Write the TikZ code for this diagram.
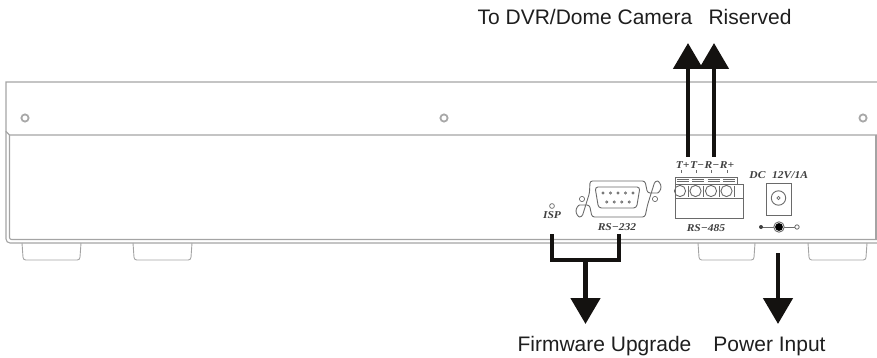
\documentclass[tikz,border=0pt]{standalone}
\usepackage{fontspec}
\setmainfont{Liberation Sans}
\newfontfamily\devfont[FakeStretch=1.1]{Liberation Serif}
\usetikzlibrary{arrows.meta}
\definecolor{edgegray}{HTML}{A4A4A4}
\definecolor{screwgray}{HTML}{A8A8A8}
\definecolor{devgray}{HTML}{6A6A6A}
\definecolor{devtext}{HTML}{404040}
\definecolor{arrowblack}{HTML}{141210}
\definecolor{labeltext}{HTML}{1E1E1E}
\tikzset{
  edgeline/.style={draw=edgegray, line width=1.1pt},
  screw/.style={draw=screwgray, line width=1.8pt},
  devline/.style={draw=devgray, line width=0.9pt},
  devlabel/.style={inner sep=0pt, text=devtext, font=\devfont\bfseries\itshape\fontsize{10.5}{12}\selectfont},
  mainlabel/.style={inner sep=0pt, anchor=base, text=labeltext, font=\fontsize{21}{25}\selectfont},
  bigarrow/.style={draw=arrowblack, line width=4.8pt, -{Triangle[width=29pt,length=26pt]}},
  bracketline/.style={draw=arrowblack, line width=4.8pt, line join=miter, line cap=butt},
}
\begin{document}
\begin{tikzpicture}[x=1pt,y=-1pt]
\useasboundingbox (0,0) rectangle (877,358);
% ---- housing ----
\draw[edgeline] (877,82) -- (6,82) -- (6,131.5) -- (9.5,135) -- (877,135);
\draw[edgeline, rounded corners=4] (6,131.5) -- (6,243) -- (877,243);
\draw[edgeline, rounded corners=2] (9.5,135) -- (9.5,239.5) -- (877,239.5);
\draw[edgeline] (876,135) -- (876,239.5);
% screws
\draw[screw] (25,118) circle (3.6);
\draw[screw] (444,118) circle (3.6);
\draw[screw] (863,118) circle (3.6);
% feet
\foreach \a/\b in {22/81, 133/192, 698/755, 808/867}{
  \draw[edgeline, line width=0.9pt, rounded corners=2.5] (\a,243) -- (\a+1.2,260) -- (\b-1.2,260) -- (\b,243);
}
% ---- ISP ----
\draw[devline, line width=0.7pt] (552,206) circle (2.4);
\node[devlabel] (isp) at (552,215) {ISP};
% ---- RS-232 (DB9) ----
\draw[devline, rounded corners=2.5] (590,181) -- (645,181) -- (647.5,193) -- (655,193)
   arc (90:-90:6) -- (647.5,205) -- (645,217) -- (592,217) -- (589.5,205) -- (582,205)
   arc (270:90:6) -- (589.5,193) -- cycle;
\draw[devline, rounded corners=3] (595,187) -- (640,187) -- (636.5,208) -- (598.5,208) -- cycle;
\draw[devline, line width=0.7pt] (582,199) circle (2.6);
\draw[devline, line width=0.7pt] (655,199) circle (2.6);
\foreach \i in {0,...,4}{ \draw[devline, line width=0.6pt] (603+7.5*\i,193) circle (1.1); }
\foreach \i in {0,...,3}{ \draw[devline, line width=0.6pt] (606.75+7.5*\i,202) circle (1.1); }
\node[devlabel] (rs232) at (617,227) {RS−232};
% ---- RS-485 terminal block ----
\node[devlabel] (trlab) at (705,165) {T+\kern0.5pt T−\kern0.5pt R−\kern0.5pt R+};
\foreach \x in {681,696,711,727}{ \draw[devline, line width=0.5pt] (\x,170) -- (\x,173); }
\draw[devline] (675,177) rectangle (737,184);
\foreach \x in {675,690.5,706,721.5}{
  \draw[devline, line width=0.6pt] (\x+1.5,179) -- (\x+13.5,179) (\x+1.5,181.5) -- (\x+13.5,181.5);
}
\draw[devline] (675,184) -- (675,218) -- (743,218) -- (743,184) -- (737,184);
\draw[devline] (675,198) -- (743,198);
\foreach \x in {680,695.5,711,726.5}{ \draw[devline] (\x,191) circle (5.6); }
\foreach \x in {687.8,703.3,718.8,734.3}{ \draw[devline, line width=0.6pt] (\x,185.5) -- (\x,196.5); }
\node[devlabel] (rs485) at (706,228) {RS−485};
% ---- DC jack ----
\node[devlabel] (dclab) at (757.5,175) {DC};
\node[devlabel] (vlab) at (790,175) {12V/1A};
\draw[devline] (766,183) rectangle (791,215);
\draw[devline] (778.5,198) circle (7.2);
\draw[devline, line width=0.6pt] (778.5,198) circle (1.6);
\draw[devline, line width=1pt] (761,227) -- (797,227);
\fill[devtext] (761,227) circle (2);
\draw[devline, line width=0.8pt, fill=white] (797,227) circle (2.2);
\draw[devline, line width=0.9pt, fill=white] (779,227) circle (5.2);
\fill[black] (779,227) circle (3.9);
% ---- connectors ----
\coordinate (tx0) at (688,157); \coordinate (tx1) at (688,43);
\coordinate (rx0) at (714,157); \coordinate (rx1) at (714,43);
\draw[bigarrow] (tx0) -- (tx1);
\draw[bigarrow] (rx0) -- (rx1);
\coordinate (ispb) at (552,234); \coordinate (serb) at (619,234);
\coordinate (fwj) at (585.5,260); \coordinate (fwt) at (585.5,324);
\draw[bracketline] (ispb) -- (552,260) -- (619,260) -- (serb);
\draw[bigarrow] (fwj) -- (fwt);
\coordinate (pw0) at (778,253); \coordinate (pw1) at (778,324);
\draw[bigarrow] (pw0) -- (pw1);
% ---- labels ----
\node[mainlabel] (cam) at (585,25) {To DVR/Dome Camera};
\node[mainlabel] (res) at (750,25) {Riserved};
\node[mainlabel] (fw) at (604.5,351) {Firmware Upgrade};
\node[mainlabel] (pwr) at (769.5,351) {Power Input};
\end{tikzpicture}
\end{document}
